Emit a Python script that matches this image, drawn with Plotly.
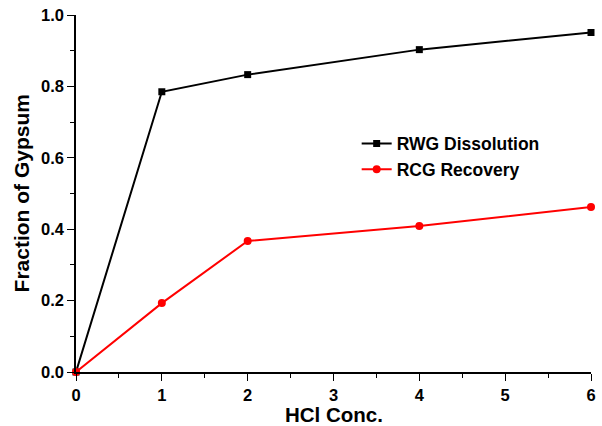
import plotly.graph_objects as go

hcl_conc = [0, 1, 2, 4, 6]
rwg_dissolution = [0.0, 0.785, 0.833, 0.903, 0.951]
rcg_recovery = [0.0, 0.193, 0.367, 0.409, 0.462]

x_ticks = [0, 1, 2, 3, 4, 5, 6]
y_ticks = [0.0, 0.2, 0.4, 0.6, 0.8, 1.0]
y_tick_labels = ["0.0", "0.2", "0.4", "0.6", "0.8", "1.0"]

FONT = "Arial, Liberation Sans, sans-serif"

fig = go.Figure()
fig.add_trace(go.Scatter(
    x=hcl_conc, y=rwg_dissolution, mode="lines+markers", name="RWG Dissolution",
    line=dict(color="black", width=2),
    marker=dict(symbol="square", size=7, color="black"),
    cliponaxis=False,
))
fig.add_trace(go.Scatter(
    x=hcl_conc, y=rcg_recovery, mode="lines+markers", name="RCG Recovery",
    line=dict(color="red", width=2),
    marker=dict(symbol="circle", size=8, color="red"),
    cliponaxis=False,
))

axis_common = dict(
    showline=True, linecolor="black", linewidth=1.5, mirror=False,
    ticks="outside", ticklen=7, tickwidth=1.2, tickcolor="black",
    showgrid=False, zeroline=False, automargin=False,
    tickfont=dict(family=FONT, size=16.5, color="black", weight="bold"),
)

fig.update_layout(
    width=602, height=426,
    margin=dict(l=76, r=11, t=15, b=54),
    paper_bgcolor="white", plot_bgcolor="white",
    xaxis=dict(
        range=[0, 6], tickvals=x_ticks,
        minor=dict(ticks="outside", ticklen=4, tickwidth=1.2, tickcolor="black", dtick=0.5, showgrid=False),
        **axis_common,
    ),
    yaxis=dict(
        range=[0, 1.0], tickvals=y_ticks, ticktext=y_tick_labels,
        minor=dict(ticks="outside", ticklen=4, tickwidth=1.2, tickcolor="black", dtick=0.1, showgrid=False),
        **axis_common,
    ),
    legend=dict(
        x=0.545, y=0.69, xanchor="left", yanchor="top",
        bgcolor="rgba(0,0,0,0)",
        font=dict(family=FONT, size=17.5, color="black", weight="bold"),
        tracegroupgap=0,
    ),
    showlegend=True,
    annotations=[
        dict(text="HCl Conc.", xref="paper", yref="paper", x=0.5, y=-0.12,
             xanchor="center", yanchor="middle", showarrow=False,
             font=dict(family=FONT, size=20.5, color="black", weight="bold")),
        dict(text="Fraction of Gypsum", xref="paper", yref="paper", x=-0.105, y=0.5,
             xanchor="center", yanchor="middle", showarrow=False, textangle=-90,
             font=dict(family=FONT, size=21, color="black", weight="bold")),
    ],
)

fig.write_html("out.html")
